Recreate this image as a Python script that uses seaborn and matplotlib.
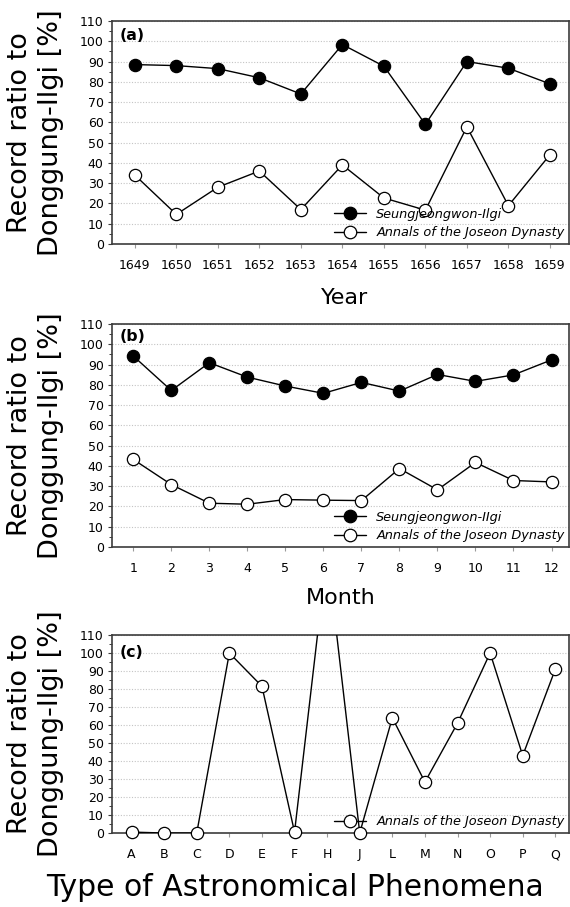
import matplotlib
matplotlib.use("Agg")
import matplotlib.pyplot as plt
from matplotlib.lines import Line2D
from matplotlib.patches import Rectangle
from matplotlib.ticker import MultipleLocator
import seaborn as sns

# ---- data ----
years = [1649, 1650, 1651, 1652, 1653, 1654, 1655, 1656, 1657, 1658, 1659]
seungjeongwon_by_year = [88.5, 88, 86.5, 82, 74, 98.4, 87.7, 59, 90, 86.7, 79]
annals_by_year = [34, 14.6, 28, 36, 17, 39, 22.7, 16.7, 57.8, 18.9, 44]

months = [1, 2, 3, 4, 5, 6, 7, 8, 9, 10, 11, 12]
seungjeongwon_by_month = [94.2, 77.2, 90.9, 83.8, 79.4, 75.8, 81.2, 76.9, 85.1, 81.7, 84.9, 92.3]
annals_by_month = [43.2, 30.8, 21.6, 21.1, 23.4, 23.1, 22.9, 38.7, 28.2, 41.7, 32.8, 32.1]

phenomena = ["A", "B", "C", "D", "E", "F", "H", "J", "L", "M", "N", "O", "P", "Q"]
annals_by_type = [0.5, 0, 0, 100, 81.5, 0.5, 156, 0, 64, 28.3, 61, 100, 43, 91]

ylabel_text = "Record ratio to\nDonggung-Ilgi [%]"

sns.set_theme(style="white")
plt.rcParams["font.family"] = ["DejaVu Sans"]
plt.rcParams["text.color"] = "black"
plt.rcParams["axes.labelcolor"] = "black"
plt.rcParams["xtick.labelcolor"] = "black"
plt.rcParams["ytick.labelcolor"] = "black"

W, H = 570, 907
fig = plt.figure(figsize=(W / 100, H / 100), dpi=100)


def px_axes(left, right, top, bottom):
    return fig.add_axes([left / W, 1 - bottom / H, (right - left) / W, (bottom - top) / H])


ax_a = px_axes(112, 569, 21, 244)
ax_b = px_axes(112, 569, 324, 547)
ax_c = px_axes(112, 569, 635, 833)

MS = 78  # marker area in pt^2


def draw_series(ax, x, y, filled):
    sns.lineplot(x=x, y=y, ax=ax, color="black", lw=1.0, sort=False,
                 legend=False, zorder=3)
    sns.scatterplot(x=x, y=y, ax=ax, s=MS, color="black",
                    facecolor="black" if filled else "white",
                    edgecolor="black", linewidth=0.9, zorder=4, legend=False)
    coll = ax.collections[-1]
    # markers sitting on the zero line stay whole; anything above the top is hidden
    coll.set_clip_path(Rectangle((0, -0.08), 1, 1.08, transform=ax.transAxes))


def style_axes(ax, xlim, panel, panel_dy):
    ax.set_ylim(0, 110)
    ax.set_xlim(*xlim)
    ax.set_yticks(range(0, 111, 10))
    ax.yaxis.set_minor_locator(MultipleLocator(5))
    ax.grid(axis="y", which="major", ls=(0, (1, 1.5)), color="#c4c4c4", lw=0.8)
    ax.set_axisbelow(True)
    for sp in ax.spines.values():
        sp.set_color("#3c3c3c")
        sp.set_linewidth(1.2)
    ax.tick_params(axis="y", which="major", direction="out", length=3, width=0.8,
                   color="#3c3c3c", pad=3, labelsize=9, left=True)
    ax.tick_params(axis="y", which="minor", direction="out", length=2, width=0.7,
                   color="#3c3c3c", left=True)
    ax.tick_params(axis="x", which="major", direction="out", length=3, width=0.8,
                   color="#9a9a9a", pad=8, labelsize=9, bottom=True)
    ax.set_ylabel("")
    ax.text(0.016, 1 - panel_dy, panel, transform=ax.transAxes, fontsize=11.3,
            fontweight="bold", ha="left", va="center")
    # two-line y label, centred on the panel
    pos = ax.get_position()
    fig.text(35.5 / W, pos.y0 + pos.height / 2, ylabel_text, rotation=90,
             ha="center", va="center", fontsize=19.5, linespacing=1.25)


def add_legend(ax, entries):
    handles = []
    labels = []
    for filled, lab in entries:
        handles.append(Line2D([], [], color="black", lw=1.0, marker="o",
                              markersize=9, markeredgewidth=0.9,
                              markerfacecolor="black" if filled else "white",
                              markeredgecolor="black"))
        labels.append(lab)
    ax.legend(handles, labels, loc="lower right", bbox_to_anchor=(1.0, 0.0),
              frameon=False, prop=dict(style="italic", size=9.3),
              handlelength=2.5, handletextpad=0.8, labelspacing=0.45,
              borderpad=0.15, borderaxespad=0.2)


# (a) by year
draw_series(ax_a, years, seungjeongwon_by_year, True)
draw_series(ax_a, years, annals_by_year, False)
style_axes(ax_a, (1648.45, 1659.46), "(a)", 0.063)
ax_a.set_xticks(years)
ax_a.set_xlabel("Year", fontsize=16)
ax_a.xaxis.set_label_coords(0.51, -0.196)
add_legend(ax_a, [(True, "Seungjeongwon-Ilgi"),
                  (False, "Annals of the Joseon Dynasty")])

# (b) by month
draw_series(ax_b, months, seungjeongwon_by_month, True)
draw_series(ax_b, months, annals_by_month, False)
style_axes(ax_b, (0.44, 12.46), "(b)", 0.054)
ax_b.set_xticks(months)
ax_b.set_xlabel("Month", fontsize=16)
ax_b.xaxis.set_label_coords(0.5, -0.182)
add_legend(ax_b, [(True, "Seungjeongwon-IIgi"),
                  (False, "Annals of the Joseon Dynasty")])

# (c) by type of phenomenon
pos_c = list(range(len(phenomena)))
draw_series(ax_c, pos_c, annals_by_type, False)
style_axes(ax_c, (-0.6, 13.42), "(c)", 0.09)
ax_c.set_xticks(pos_c)
ax_c.set_xticklabels(phenomena)
ax_c.set_xlabel("Type of Astronomical Phenomena", fontsize=21.5)
ax_c.xaxis.set_label_coords(0.4, -0.2)
add_legend(ax_c, [(False, "Annals of the Joseon Dynasty")])

fig.savefig("out.png", dpi=100)
